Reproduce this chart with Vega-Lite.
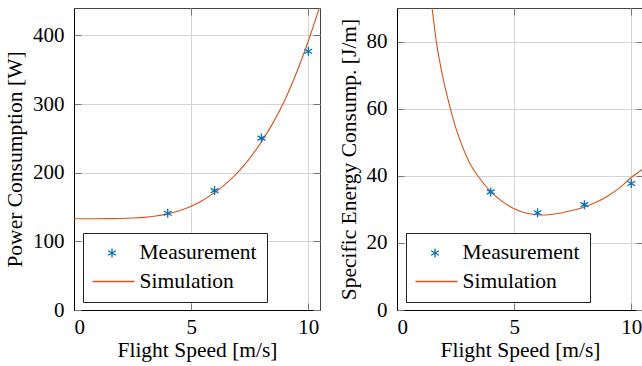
{
  "$schema": "https://vega.github.io/schema/vega-lite/v6.json",
  "padding": {"left": 4, "top": 7, "right": 0, "bottom": 0},
  "background": "white",
  "spacing": 77,
  "bounds": "flush",
  "config": {
    "font": "Liberation Serif",
    "view": {"stroke": "#444", "strokeWidth": 1},
    "axis": {
      "labelFont": "Liberation Serif", "labelFontSize": 21, "labelColor": "#000",
      "titleFont": "Liberation Serif", "titleFontSize": 21.5, "titleFontWeight": "normal", "titleColor": "#000",
      "gridColor": "#d4d4d4", "gridWidth": 1, "domainColor": "#000", "domainWidth": 1,
      "ticks": true, "tickSize": -7, "tickColor": "#777", "tickWidth": 1,
      "labelPadding": 17, "titlePadding": 6
    },
    "axisX": {"labelPadding": 13.5, "titlePadding": 2},
    "legend": {
      "orient": "none", "legendX": 9, "legendY": 225,
      "fillColor": "white", "strokeColor": "#222", "padding": 9.5,
      "labelFont": "Liberation Serif", "labelFontSize": 21.5, "labelColor": "#000",
      "symbolSize": 2025, "symbolStrokeWidth": 1.3, "labelOffset": 4, "symbolOffset": -4, "rowPadding": 6.5,
      "clipHeight": 21
    }
  },
  "datasets": {
    "powerSim": [
      {"speed": 0, "value": 133, "series": "Simulation"},
      {"speed": 0.5, "value": 133, "series": "Simulation"},
      {"speed": 1, "value": 133, "series": "Simulation"},
      {"speed": 1.5, "value": 133.1, "series": "Simulation"},
      {"speed": 2, "value": 133.4, "series": "Simulation"},
      {"speed": 2.5, "value": 134, "series": "Simulation"},
      {"speed": 3, "value": 135, "series": "Simulation"},
      {"speed": 3.5, "value": 137, "series": "Simulation"},
      {"speed": 4, "value": 140, "series": "Simulation"},
      {"speed": 4.5, "value": 144.5, "series": "Simulation"},
      {"speed": 5, "value": 151, "series": "Simulation"},
      {"speed": 5.5, "value": 160, "series": "Simulation"},
      {"speed": 6, "value": 171, "series": "Simulation"},
      {"speed": 6.5, "value": 184.5, "series": "Simulation"},
      {"speed": 7, "value": 201, "series": "Simulation"},
      {"speed": 7.5, "value": 221, "series": "Simulation"},
      {"speed": 8, "value": 245, "series": "Simulation"},
      {"speed": 8.5, "value": 273, "series": "Simulation"},
      {"speed": 9, "value": 306, "series": "Simulation"},
      {"speed": 9.5, "value": 346, "series": "Simulation"},
      {"speed": 10, "value": 392, "series": "Simulation"},
      {"speed": 10.5, "value": 443, "series": "Simulation"}
    ],
    "powerMeas": [
      {"speed": 4, "value": 141, "series": "Measurement"},
      {"speed": 6, "value": 174, "series": "Measurement"},
      {"speed": 8, "value": 250.5, "series": "Measurement"},
      {"speed": 10, "value": 377, "series": "Measurement"}
    ],
    "energySim": [
      {"speed": 1.48, "value": 91, "series": "Simulation"},
      {"speed": 1.68, "value": 80, "series": "Simulation"},
      {"speed": 2.0, "value": 68, "series": "Simulation"},
      {"speed": 2.28, "value": 60, "series": "Simulation"},
      {"speed": 2.5, "value": 54.5, "series": "Simulation"},
      {"speed": 2.75, "value": 49.5, "series": "Simulation"},
      {"speed": 3.08, "value": 44.1, "series": "Simulation"},
      {"speed": 3.5, "value": 39.5, "series": "Simulation"},
      {"speed": 4.0, "value": 35.3, "series": "Simulation"},
      {"speed": 4.5, "value": 32.3, "series": "Simulation"},
      {"speed": 5.0, "value": 30.2, "series": "Simulation"},
      {"speed": 5.5, "value": 28.9, "series": "Simulation"},
      {"speed": 6.0, "value": 28.4, "series": "Simulation"},
      {"speed": 6.3, "value": 28.3, "series": "Simulation"},
      {"speed": 6.5, "value": 28.4, "series": "Simulation"},
      {"speed": 7.0, "value": 28.9, "series": "Simulation"},
      {"speed": 7.5, "value": 29.7, "series": "Simulation"},
      {"speed": 8.0, "value": 30.7, "series": "Simulation"},
      {"speed": 8.5, "value": 32.1, "series": "Simulation"},
      {"speed": 9.0, "value": 34.0, "series": "Simulation"},
      {"speed": 9.5, "value": 36.4, "series": "Simulation"},
      {"speed": 10.0, "value": 39.5, "series": "Simulation"},
      {"speed": 10.5, "value": 42.0, "series": "Simulation"}
    ],
    "energyMeas": [
      {"speed": 4, "value": 35.2, "series": "Measurement"},
      {"speed": 6, "value": 29.0, "series": "Measurement"},
      {"speed": 8, "value": 31.4, "series": "Measurement"},
      {"speed": 10, "value": 37.7, "series": "Measurement"}
    ]
  },
  "hconcat": [
    {
      "width": 246, "height": 302,
      "layer": [
        {
          "data": {"name": "powerSim"},
          "mark": {"type": "line", "interpolate": "monotone", "strokeWidth": 1.1, "clip": true},
          "encoding": {
            "x": {"field": "speed", "type": "quantitative", "scale": {"domain": [0, 10.5], "nice": false}, "axis": {"orient": "bottom", "values": [0, 5, 10], "title": "Flight Speed [m/s]"}},
            "y": {"field": "value", "type": "quantitative", "scale": {"domain": [0, 440], "nice": false}, "axis": {"orient": "left", "values": [0, 100, 200, 300, 400], "title": "Power Consumption [W]"}},
            "color": {"field": "series", "type": "nominal", "scale": {"domain": ["Measurement", "Simulation"], "range": ["#0072BD", "#D95319"]}, "legend": {"title": null}}
          }
        },
        {
          "data": {"name": "powerMeas"},
          "mark": {"type": "point", "filled": false, "size": 2025, "strokeWidth": 1.3, "opacity": 1, "clip": true},
          "encoding": {
            "x": {"field": "speed", "type": "quantitative", "axis": {"orient": "top", "values": [0, 5, 10], "labels": false, "title": null, "grid": false, "domain": false}},
            "y": {"field": "value", "type": "quantitative", "axis": {"orient": "right", "values": [0, 100, 200, 300, 400], "labels": false, "title": null, "grid": false, "domain": false}},
            "color": {"field": "series", "type": "nominal", "scale": {"domain": ["Measurement", "Simulation"], "range": ["#0072BD", "#D95319"]}, "legend": {"title": null}},
            "shape": {"field": "series", "type": "nominal", "scale": {"domain": ["Measurement", "Simulation"], "range": ["M0,-0.2L0,0.2M-0.173,-0.1L0.173,0.1M-0.173,0.1L0.173,-0.1", "stroke"]}, "legend": {"title": null}}
          }
        }
      ],
      "resolve": {"axis": {"x": "independent", "y": "independent"}}
    },
    {
      "width": 246, "height": 302,
      "layer": [
        {
          "data": {"name": "energySim"},
          "mark": {"type": "line", "interpolate": "monotone", "strokeWidth": 1.1, "clip": true},
          "encoding": {
            "x": {"field": "speed", "type": "quantitative", "scale": {"domain": [0, 10.5], "nice": false}, "axis": {"orient": "bottom", "values": [0, 5, 10], "title": "Flight Speed [m/s]"}},
            "y": {"field": "value", "type": "quantitative", "scale": {"domain": [0, 90], "nice": false}, "axis": {"orient": "left", "values": [0, 20, 40, 60, 80], "title": "Specific Energy Consump. [J/m]"}},
            "color": {"field": "series", "type": "nominal", "scale": {"domain": ["Measurement", "Simulation"], "range": ["#0072BD", "#D95319"]}, "legend": {"title": null}}
          }
        },
        {
          "data": {"name": "energyMeas"},
          "mark": {"type": "point", "filled": false, "size": 2025, "strokeWidth": 1.3, "opacity": 1, "clip": true},
          "encoding": {
            "x": {"field": "speed", "type": "quantitative", "axis": {"orient": "top", "values": [0, 5, 10], "labels": false, "title": null, "grid": false, "domain": false}},
            "y": {"field": "value", "type": "quantitative", "axis": {"orient": "right", "values": [0, 20, 40, 60, 80], "labels": false, "title": null, "grid": false, "domain": false}},
            "color": {"field": "series", "type": "nominal", "scale": {"domain": ["Measurement", "Simulation"], "range": ["#0072BD", "#D95319"]}, "legend": {"title": null}},
            "shape": {"field": "series", "type": "nominal", "scale": {"domain": ["Measurement", "Simulation"], "range": ["M0,-0.2L0,0.2M-0.173,-0.1L0.173,0.1M-0.173,0.1L0.173,-0.1", "stroke"]}, "legend": {"title": null}}
          }
        }
      ],
      "resolve": {"axis": {"x": "independent", "y": "independent"}, "scale": {"color": "independent", "shape": "independent"}}
    }
  ],
  "resolve": {"scale": {"color": "independent", "shape": "independent", "x": "independent", "y": "independent"}}
}
